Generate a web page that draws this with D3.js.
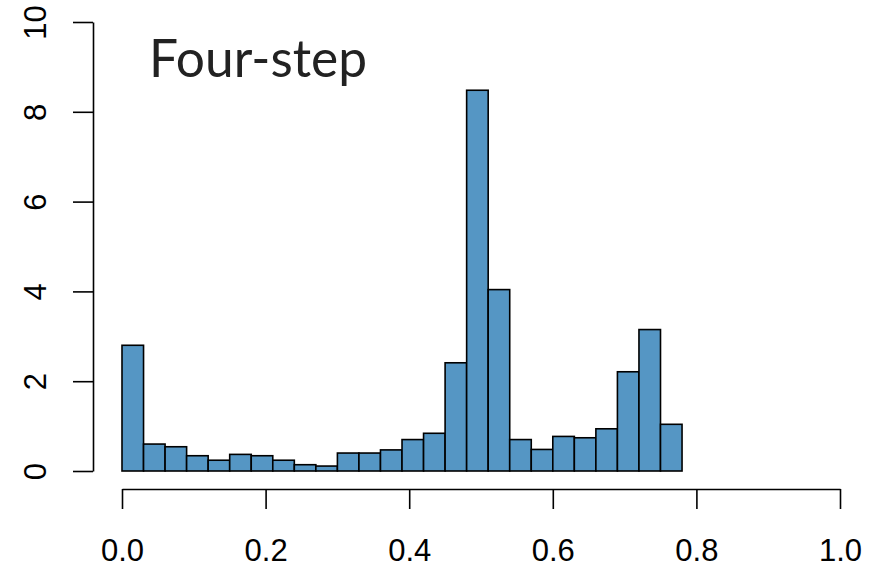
<!DOCTYPE html>
<html>
<head>
<meta charset="utf-8">
<script src="https://cdn.jsdelivr.net/npm/d3@7"></script>
<style>
  html, body { margin: 0; padding: 0; background: #fff; }
  svg { display: block; }
</style>
</head>
<body>
<svg id="chart" width="884" height="569"></svg>
<script>
// Histogram bins (width 0.03) and their densities
const binStarts = [0.00, 0.03, 0.06, 0.09, 0.12, 0.15, 0.18, 0.21, 0.24, 0.27,
                   0.30, 0.33, 0.36, 0.39, 0.42, 0.45, 0.48, 0.51, 0.54, 0.57,
                   0.60, 0.63, 0.66, 0.69, 0.72, 0.75];
const binWidth = 0.03;
const densities = [2.80, 0.60, 0.54, 0.34, 0.24, 0.37, 0.34, 0.24, 0.14, 0.11,
                   0.40, 0.40, 0.47, 0.70, 0.84, 2.41, 8.48, 4.04, 0.70, 0.48,
                   0.77, 0.74, 0.94, 2.21, 3.15, 1.04];
const xTicks = [0, 0.2, 0.4, 0.6, 0.8, 1.0];
const yTicks = [0, 2, 4, 6, 8, 10];
const title = "Four-step";

const svg = d3.select("#chart");

const x = d3.scaleLinear().domain([0, 1]).range([122, 840]);
const y = d3.scaleLinear().domain([0, 10]).range([471, 22]);

const bins = binStarts.map((s, i) => ({ x0: s, x1: s + binWidth, v: densities[i] }));

svg.append("g")
  .selectAll("rect")
  .data(bins)
  .join("rect")
  .attr("x", d => x(d.x0))
  .attr("y", d => y(d.v))
  .attr("width", d => x(d.x1) - x(d.x0))
  .attr("height", d => y(0) - y(d.v))
  .attr("fill", "#5596c4")
  .attr("stroke", "#000")
  .attr("stroke-width", 1.6);

// Bottom axis, offset below the plot as in base graphics
const xAxis = svg.append("g")
  .attr("transform", "translate(0,489)")
  .call(d3.axisBottom(x).tickValues(xTicks).tickFormat(d3.format(".1f"))
        .tickSize(20).tickSizeOuter(0).tickPadding(30));
xAxis.select(".domain").attr("stroke", "#000").attr("stroke-width", 1.6);
xAxis.selectAll(".tick line").attr("stroke", "#000").attr("stroke-width", 1.6);
xAxis.selectAll(".tick text")
  .attr("font-family", "'Liberation Sans', Arial, sans-serif")
  .attr("font-size", 31)
  .attr("fill", "#000");

// Left axis with rotated labels
const yAxis = svg.append("g")
  .attr("transform", "translate(93,0)")
  .call(d3.axisLeft(y).tickValues(yTicks).tickFormat(d3.format("d"))
        .tickSize(20).tickSizeOuter(0));
yAxis.select(".domain").attr("stroke", "#000").attr("stroke-width", 1.6);
yAxis.selectAll(".tick line").attr("stroke", "#000").attr("stroke-width", 1.6);
yAxis.selectAll(".tick text")
  .attr("font-family", "'Liberation Sans', Arial, sans-serif")
  .attr("font-size", 31)
  .attr("fill", "#000")
  .attr("x", null).attr("dy", null)
  .attr("text-anchor", "middle")
  .attr("transform", "translate(-47,0) rotate(-90)");

svg.append("text")
  .attr("x", 149)
  .attr("y", 77)
  .attr("font-family", "Lato, 'Open Sans', sans-serif")
  .attr("font-size", 53)
  .attr("textLength", 218)
  .attr("lengthAdjust", "spacingAndGlyphs")
  .attr("fill", "#222")
  .text(title);
</script>
</body>
</html>
